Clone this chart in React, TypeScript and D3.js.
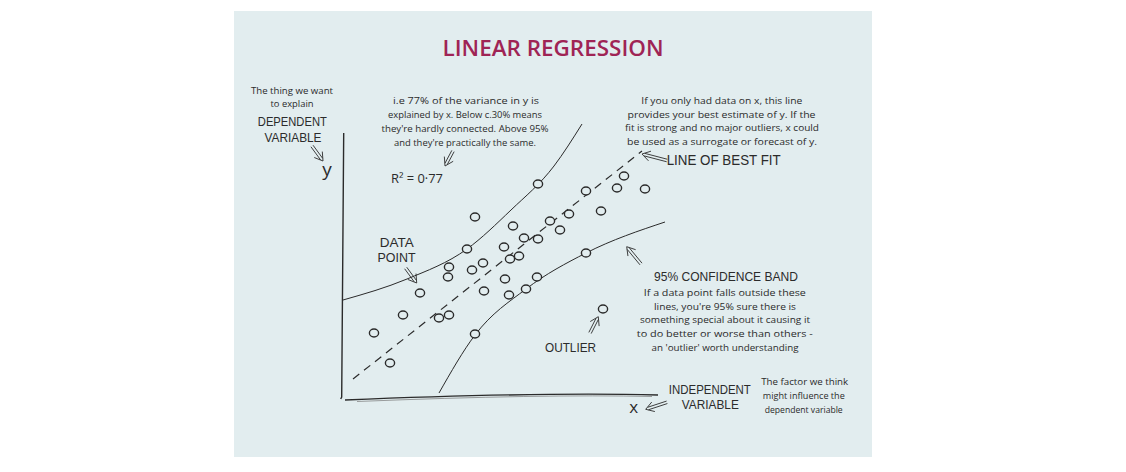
import React from 'react';
import * as d3 from 'd3';

// observed data points (x, y in chart units)
const pointX = [3.2, 4.8, 6.1, 7.8, 9.7, 10.7, 10.6, 10.7, 12.5, 13.0, 13.3, 13.3, 14.1, 14.2, 16.2, 16.3, 16.7, 16.8, 17.1, 17.7, 18.2, 18.4, 19.5, 19.6, 19.6, 20.8, 21.8, 22.7, 24.4, 24.4, 25.9, 26.1, 27.5, 28.2, 30.3];
const pointY = [6.7, 3.7, 8.5, 10.7, 8.2, 8.5, 12.3, 13.3, 15.1, 13.0, 18.3, 6.6, 13.7, 10.9, 15.3, 12.1, 10.5, 14.1, 17.4, 14.4, 16.2, 11.1, 12.3, 16.1, 21.6, 17.9, 17.0, 18.6, 20.9, 14.7, 18.9, 9.1, 21.2, 22.4, 21.1];

// line of best fit
const fitX = [1.1, 30.0];
const fitY = [2.1, 24.9];

// 95% confidence band
const upperX = [0.1, 6.5, 12.5, 16.9, 21.2, 24.0];
const upperY = [10.0, 12.1, 15.1, 19.0, 23.4, 27.6];
const lowerX = [9.7, 13.3, 18.4, 24.4, 32.3];
const lowerY = [0.7, 6.5, 11.1, 14.7, 17.8];

const title = 'LINEAR REGRESSION';
const r2Label = 'R\u00B2 = 0\u00B777';
const notesR2 = ['i.e 77% of the variance in y is', 'explained by x. Below c.30% means', "they're hardly connected.  Above 95%", "and they're practically the same."];
const notesFit = ['If you only had data on x, this line', 'provides your best estimate of y.  If the', 'fit is strong and no major outliers, x could', 'be used as a surrogate or forecast of y.'];
const notesBand = ['If a data point falls outside these', "lines, you're 95% sure there is", 'something special about it causing it', 'to do better or worse than others -', "an 'outlier' worth understanding"];
const notesY = ['The thing we want', 'to explain'];
const notesX = ['The factor we think', 'might influence the', 'dependent variable'];

const W = 1126;
const H = 472;
const bg = '#e2edef';
const ink = '#2b2b2b';
const font = "'Open Sans', 'DejaVu Sans', sans-serif";
const capsFont = "'Liberation Sans', Arial, sans-serif";

// text layout: [text, centre x, baseline y, font size, width]
type Lbl = [string, number, number, number, number];
const labels: Lbl[] = [
  [notesY[0], 292, 93.5, 9.5, 82],
  [notesY[1], 292, 107, 9.5, 43],
  ['DEPENDENT', 292.3, 126, 13, 69],
  ['VARIABLE', 293, 141.7, 13, 57],
  [notesR2[0], 466, 104, 9.5, 146],
  [notesR2[1], 465, 118, 9.5, 154],
  [notesR2[2], 465, 132, 9.5, 167],
  [notesR2[3], 465, 145.5, 9.5, 142],
  [notesFit[0], 721.8, 103.5, 9.5, 161],
  [notesFit[1], 721.5, 117.5, 9.5, 188],
  [notesFit[2], 722, 131, 9.5, 194],
  [notesFit[3], 722, 144.5, 9.5, 190],
  ['LINE OF BEST FIT', 723.7, 165, 14.5, 114],
  ['DATA', 396.8, 246.7, 13, 34],
  ['POINT', 396.5, 261.7, 13, 38],
  ['95% CONFIDENCE BAND', 726, 280.7, 13.5, 144],
  [notesBand[0], 724.8, 295.5, 9.5, 162],
  [notesBand[1], 725, 309.5, 9.5, 142],
  [notesBand[2], 725, 323, 9.5, 170],
  [notesBand[3], 724.8, 337, 9.5, 176],
  [notesBand[4], 725, 350.5, 9.5, 147],
  ['OUTLIER', 570.5, 351.7, 13, 51],
  ['INDEPENDENT', 709.8, 394.3, 13, 82],
  ['VARIABLE', 710.3, 409.3, 13, 57],
  [notesX[0], 804.7, 385, 9.5, 87],
  [notesX[1], 803.8, 398.5, 9.5, 82],
  [notesX[2], 803.7, 412.5, 9.5, 78],
];

// double-shafted arrows: from -> to (pixels)
const arrows: [number, number, number, number][] = [
  [312, 146, 323, 161],
  [453, 151, 445, 166],
  [667, 160.5, 642, 154],
  [405.7, 268, 416.7, 283],
  [641, 264, 626.7, 246.7],
  [590, 333, 598.3, 316.7],
  [667, 402.3, 645.7, 409.3],
];

const arrowPath = ([x1, y1, x2, y2]: [number, number, number, number]) => {
  const dx = x2 - x1;
  const dy = y2 - y1;
  const len = Math.hypot(dx, dy);
  const ux = dx / len;
  const uy = dy / len;
  const nx = -uy;
  const ny = ux;
  const o = 1.3;
  const ex = x2 - ux * 2.5;
  const ey = y2 - uy * 2.5;
  const hx = x2 - ux * 8;
  const hy = y2 - uy * 8;
  return (
    `M${x1 + nx * o},${y1 + ny * o}L${ex + nx * o},${ey + ny * o}` +
    `M${x1 - nx * o},${y1 - ny * o}L${ex - nx * o},${ey - ny * o}` +
    `M${hx + nx * 5},${hy + ny * 5}L${x2},${y2}L${hx - nx * 5},${hy - ny * 5}`
  );
};

const App = () => {
  const x = d3.scaleLinear().domain([0, 32]).range([342, 662]);
  const y = d3.scaleLinear().domain([0, 27]).range([400, 130]);

  const bandPath = (xs: number[], ys: number[]) =>
    d3
      .line<number>()
      .x((d) => x(d))
      .y((d, i) => y(ys[i]))
      .curve(d3.curveMonotoneX)(xs) || '';

  const fitPath = d3
    .line<number>()
    .x((d) => x(d))
    .y((d, i) => y(fitY[i]))(fitX) || '';

  return (
    <svg width={W} height={H} style={{ position: 'absolute', left: 0, top: 0 }}>
      <rect x={0} y={0} width={W} height={H} fill="#ffffff" />
      <rect x={234} y={11} width={638} height={446} fill={bg} />

      <text
        x={553}
        y={56}
        textAnchor="middle"
        fontFamily={font}
        fontSize={22}
        fontWeight={600}
        fill="#9f2455"
        textLength={221}
        lengthAdjust="spacingAndGlyphs"
      >
        {title}
      </text>

      {/* axes */}
      <path
        d={`M${x(0.17)},${y(26.7)}L${x(-0.03)},${y(0.3)}L${x(-0.13)},${y(0.1)}`}
        fill="none"
        stroke={ink}
        strokeWidth={1.4}
      />
      <path
        d={`M${x(0.3)},${y(0)}Q${x(20)},${y(0.8)} ${x(31.6)},${y(0.5)}`}
        fill="none"
        stroke={ink}
        strokeWidth={1.3}
      />
      <path
        d={`M${x(1.5)},${y(-0.15)}Q${x(20)},${y(0.6)} ${x(31)},${y(0.35)}`}
        fill="none"
        stroke="#777"
        strokeWidth={0.7}
      />

      {/* confidence band */}
      <path d={bandPath(upperX, upperY)} fill="none" stroke={ink} strokeWidth={1} />
      <path d={bandPath(lowerX, lowerY)} fill="none" stroke={ink} strokeWidth={1} />

      {/* line of best fit */}
      <path d={fitPath} fill="none" stroke={ink} strokeWidth={1.2} strokeDasharray="8 6" />

      {/* data points */}
      {pointX.map((d, i) => (
        <ellipse
          key={i}
          cx={x(d)}
          cy={y(pointY[i])}
          rx={4.6}
          ry={4}
          fill={bg}
          stroke={ink}
          strokeWidth={1.4}
        />
      ))}

      {/* annotations */}
      {labels.map(([t, cx, by, fs, w], i) => (
        <text
          key={i}
          x={cx}
          y={by}
          textAnchor="middle"
          fontFamily={fs >= 12 ? capsFont : font}
          fontSize={fs}
          fill={ink}
          textLength={w}
          lengthAdjust="spacingAndGlyphs"
        >
          {t}
        </text>
      ))}
      <text x={327} y={175.7} textAnchor="middle" fontFamily={font} fontSize={19} fill={ink}>
        y
      </text>
      <text x={633.7} y={413.3} textAnchor="middle" fontFamily={font} fontSize={17} fill={ink}>
        x
      </text>
      <text
        x={417}
        y={183.3}
        textAnchor="middle"
        fontFamily={font}
        fontSize={12}
        fill={ink}
        textLength={52}
        lengthAdjust="spacingAndGlyphs"
      >
        {r2Label}
      </text>

      {arrows.map((a, i) => (
        <path key={i} d={arrowPath(a)} fill="none" stroke={ink} strokeWidth={0.9} />
      ))}
    </svg>
  );
};

export default App;
